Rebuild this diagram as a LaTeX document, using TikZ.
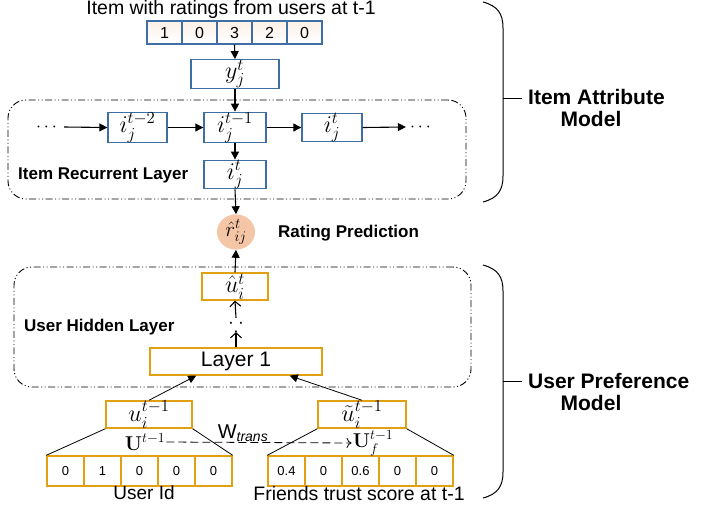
\RequirePackage{fix-cm}
\documentclass[tikz,border=0pt]{standalone}
\usepackage{amsmath}
\usepackage{amssymb}
\usepackage[no-math]{fontspec}
\setmainfont{Liberation Sans}
\usetikzlibrary{positioning,calc,arrows.meta,shapes.geometric}

\definecolor{itemblue}{HTML}{3D6FA5}
\definecolor{usergold}{HTML}{E0A012}
\definecolor{peach}{HTML}{F5C6A5}

\tikzset{
    cellB/.style={draw=itemblue, line width=1.4pt, minimum width=35pt, minimum height=23pt,
        inner sep=0pt, top color=peach!25, bottom color=white, font=\fontsize{16}{16}\selectfont},
    cellG/.style={draw=usergold, line width=1.4pt, minimum width=37pt, minimum height=30pt,
        inner sep=0pt, font=\fontsize{13}{13}\selectfont},
    boxB/.style={draw=itemblue, line width=1.4pt, minimum height=27pt, inner sep=0pt,
        font=\fontsize{24}{24}\selectfont},
    boxG/.style={draw=usergold, line width=1.4pt, minimum height=27pt, inner sep=0pt,
        font=\fontsize{24}{24}\selectfont},
    lbl/.style={font=\bfseries\fontsize{17}{17}\selectfont, inner sep=0pt},
    side/.style={font=\bfseries\fontsize{21}{21}\selectfont, inner sep=0pt},
    frame/.style={draw, line width=0.9pt, rounded corners=18pt,
        dash pattern=on 7pt off 2.5pt on 1pt off 2.5pt on 1pt off 2.5pt},
    arr/.style={line width=1.1pt, -{Triangle[length=8pt,width=8pt]}},
    barb/.style={line width=1.1pt, -{Straight Barb[length=5pt,width=11pt]}},
    link/.style={line width=0.8pt},
    brace/.style={line width=1pt}
}

\begin{document}
\begin{tikzpicture}[x=1pt, y=-1pt]
    \useasboundingbox (0,0) rectangle (704,504);

    % item attribute model
    \node[font=\fontsize{19.5}{20}\selectfont] (title) at (231,9) {Item with ratings from users at t-1};
    \foreach \v [count=\k] in {1,0,3,2,0}
        \node[cellB] (r\k) at ({129.5+35*\k}, 32.5) {\v};
    \node[boxB, minimum width=88pt] (y) at (235,74) {$y_j^t$};
    \node[frame, minimum width=458pt, minimum height=99pt] (itemframe) at (237,149.5) {};
    \node[boxB, minimum width=59pt] (i2) at (137.5,127.5) {$i_j^{t-2}$};
    \node[boxB, minimum width=62pt] (i1) at (235,127.5) {$i_j^{t-1}$};
    \node[boxB, minimum width=60pt] (i0) at (332,127.5) {$i_j^{t}$};
    \node[boxB, minimum width=62pt] (it) at (235,174.5) {$i_j^{t}$};
    \node[font=\fontsize{18}{18}\selectfont, inner sep=0pt] (dl) at (48,127) {$\cdots$};
    \node[font=\fontsize{18}{18}\selectfont, inner sep=0pt] (dr) at (422,127) {$\cdots$};
    \node[lbl, anchor=west] (irl) at (18,175) {Item Recurrent Layer};
    \draw[arr] (r3.south) -- (y.north);
    \draw[arr] (y.south) -- (i1.north);
    \draw[arr] (dl.east) ++(4,0) -- (i2.west);
    \draw[arr] (i2.east) -- (i1.west);
    \draw[arr] (i1.east) -- (i0.west);
    \draw[arr] (i0.east) -- ($(dr.west)+(-4,0)$);
    \draw[arr] (i1.south) -- (it.north);

    % rating prediction
    \node[ellipse, fill=peach, minimum width=38pt, minimum height=28pt, inner sep=0pt,
        font=\fontsize{21}{21}\selectfont] (r) at (236,232) {$\hat{r}_{ij}^{t}$};
    \node[lbl, anchor=west] (rp) at (278,233) {Rating Prediction};
    \draw[arr] (it.south) -- (r.north);

    % user preference model
    \node[frame, minimum width=457pt, minimum height=120pt] (userframe) at (242.5,327) {};
    \node[boxG, minimum width=66pt] (uh) at (235,286.5) {$\hat{u}_i^{t}$};
    \node[inner sep=0pt, font=\fontsize{20}{20}\selectfont] (vd) at (236,325) {$\because$};
    \node[boxG, minimum width=172pt, font=\fontsize{21}{21}\selectfont] (layer) at (236,361.5) {Layer 1};
    \node[lbl, anchor=west] (uhl) at (24,327) {User Hidden Layer};
    \draw[arr] (uh.north) -- (r.south);
    \draw[barb] (vd.north) -- (uh.south);
    \draw[barb] (layer.north) -- (vd.south);

    \node[boxG, minimum width=86pt] (u) at (149,414.5) {$u_i^{t-1}$};
    \node[boxG, minimum width=88pt] (ut) at (362,414.5) {$\tilde{u}_i^{t-1}$};
    \draw[arr, line width=0.8pt] (u.north) -- ($(layer.south west)!0.27!(layer.south east)$);
    \draw[arr, line width=0.8pt] (ut.north) -- ($(layer.south west)!0.81!(layer.south east)$);

    \foreach \v [count=\k] in {0,1,0,0,0}
        \node[cellG] (ul\k) at ({28.5+37*\k}, 471) {\v};
    \foreach \v [count=\k] in {0.4,0,0.6,0,0}
        \node[cellG] (fr\k) at ({249.5+37*\k}, 471) {\v};
    \draw[link] (u.south west) -- (ul1.north west);
    \draw[link] (u.south east) -- (ul5.north east);
    \draw[link] (ut.south west) -- (fr1.north west);
    \draw[link] (ut.south east) -- (fr5.north east);

    \node[font=\fontsize{20}{20}\selectfont, inner sep=1pt] (U) at (145,442) {$\mathbf{U}^{t-1}$};
    \node[font=\fontsize{20}{20}\selectfont, inner sep=1pt] (Uf) at (373,443) {$\mathbf{U}_f^{t-1}$};
    \node[font=\fontsize{20}{20}\selectfont] (w) at (243,433) {W$_{\textit{trans}}$};
    \draw[line width=0.8pt, dash pattern=on 8pt off 4pt, -{To[length=5pt,width=10pt]}] (U.east) -- (Uf.west);

    \node[font=\fontsize{19}{19}\selectfont] (uid) at (144,493) {User Id};
    \node[font=\fontsize{19.5}{19.5}\selectfont] (fts) at (359,494) {Friends trust score at t-1};

    % braces
    \draw[brace] (483,2) .. controls (498,6) and (503,14) .. (503,28) -- (503,176)
        .. controls (503,190) and (498,198) .. (483,202);
    \coordinate (bt) at (503,98);
    \draw[brace] (bt) -- ++(19,0);
    \node[side, anchor=west] (iam1) at (528,97) {Item Attribute};
    \node[side] (iam2) at (591,119) {Model};

    \draw[brace] (483,265) .. controls (498,269) and (503,277) .. (503,291) -- (503,472)
        .. controls (503,486) and (498,494) .. (483,498);
    \coordinate (bb) at (503,381);
    \draw[brace] (bb) -- ++(19,0);
    \node[side, anchor=west] (upm1) at (528,381) {User Preference};
    \node[side] (upm2) at (591,403) {Model};
\end{tikzpicture}
\end{document}
